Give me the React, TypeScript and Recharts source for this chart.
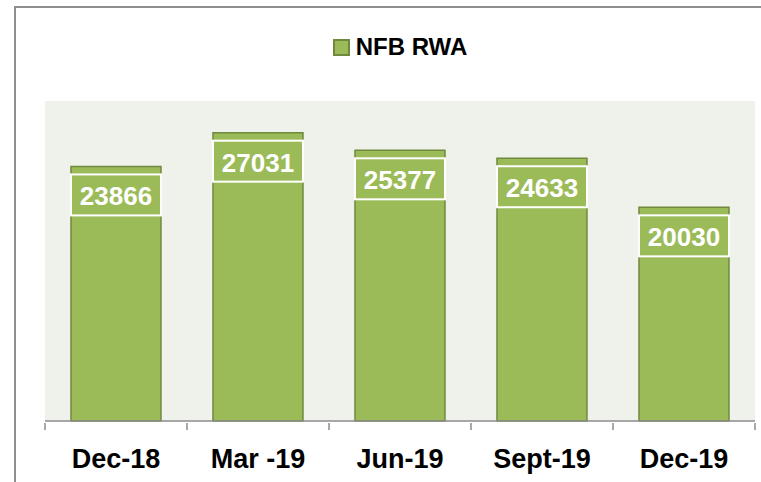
import { Bar, BarChart, CartesianGrid, LabelList, Legend, XAxis, YAxis } from "recharts";

const categories = ["Dec-18", "Mar -19", "Jun-19", "Sept-19", "Dec-19"];
const nfbRwa = [23866, 27031, 25377, 24633, 20030];
const seriesName = "NFB RWA";

const data = categories.map((period, i) => ({ period, value: nfbRwa[i] }));

const GREEN = "#9bbb59";
const GREEN_DARK = "#71893f";
const FONT = "'Liberation Sans', Arial, sans-serif";

const CategoryTick = (props: any) =>
{
  const { x, y, payload, index, visibleTicksCount } = props;
  const half = payload.offset ?? 0;
  const isLast = index === visibleTicksCount - 1;
  return (
    <g>
      <line x1={x - half} x2={x - half} y1={y} y2={y + 7} stroke="#8c8c8c" strokeWidth={1.5}/>
      {isLast && <line x1={x + half} x2={x + half} y1={y} y2={y + 7} stroke="#8c8c8c" strokeWidth={1.5}/>}
      <text x={x} y={y + 45} textAnchor="middle" fontFamily={FONT} fontWeight="bold" fontSize={27} fill="#000">
        {payload.value}
      </text>
    </g>
  );
};

const ValueBox = (props: any) =>
{
  const { x, y, width, value } = props;
  return (
    <g>
      <rect x={x} y={y + 8} width={width} height={41} fill={GREEN} stroke="#ffffff" strokeWidth={2}/>
      <text x={x + width / 2} y={y + 39} textAnchor="middle" fontFamily={FONT} fontWeight="bold" fontSize={26} fill="#ffffff">
        {value}
      </text>
    </g>
  );
};

const LegendContent = () => (
  <div style={{ display: "flex", justifyContent: "center", alignItems: "center", fontFamily: FONT }}>
    <span style={{ width: 13, height: 13, background: GREEN, border: `2px solid ${GREEN_DARK}`, display: "inline-block" }}/>
    <span style={{ marginLeft: 6, fontWeight: "bold", fontSize: 24, color: "#000" }}>{seriesName}</span>
  </div>
);

export default function App()
{
  return (
    <div style={{ position: "absolute", left: 0, top: 0, width: 761, height: 482, overflow: "hidden", background: "#fff" }}>
      <div style={{ position: "absolute", left: 14, top: 6, width: 800, height: 600, border: "2px solid #8e8e8e" }}/>
      <div style={{ position: "absolute", left: 0, top: 0 }}>
        <BarChart width={761} height={482} data={data} margin={{ top: 101, right: 6, left: 45, bottom: 0 }} barCategoryGap="18.3%">
          <CartesianGrid fill="#eff2ea" stroke="none" horizontal={false} vertical={false}/>
          <XAxis
            dataKey="period"
            height={61}
            interval={0}
            tickSize={0}
            tickLine={false}
            axisLine={{ stroke: "#8c8c8c", strokeWidth: 1.5 }}
            tick={<CategoryTick/>}
          />
          <YAxis hide domain={[0, 30000]}/>
          <Legend
            layout="horizontal"
            verticalAlign="middle"
            align="center"
            content={<LegendContent/>}
            wrapperStyle={{ top: 33, left: 45, width: 710 }}
          />
          <Bar dataKey="value" name={seriesName} fill={GREEN} stroke={GREEN_DARK} strokeWidth={1.5} isAnimationActive={false}>
            <LabelList dataKey="value" content={<ValueBox/>}/>
          </Bar>
        </BarChart>
      </div>
    </div>
  );
}
